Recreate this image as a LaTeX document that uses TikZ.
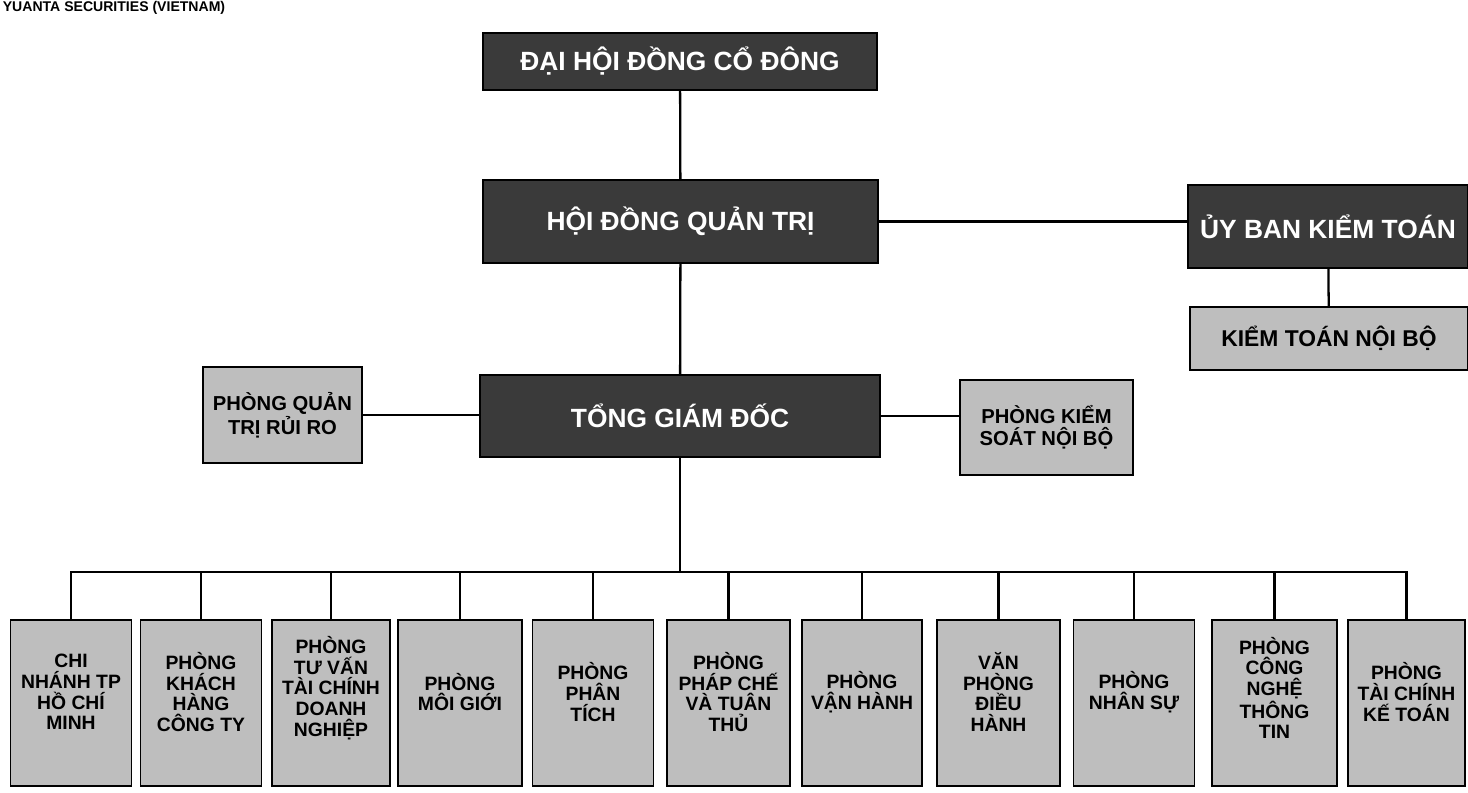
\documentclass[tikz,border=0pt]{standalone}
\usepackage{fontspec}
\setmainfont{Liberation Sans}
\definecolor{boxdark}{HTML}{3A3A3A}
\definecolor{boxlight}{HTML}{BEBEBE}
\begin{document}
\begin{tikzpicture}[scale=1.0,
  dark/.style={draw=black, fill=boxdark, text=white, font=\fontsize{15}{17}\selectfont\bfseries, line width=0.8pt},
  light/.style={draw=black, fill=boxlight, font=\fontsize{11.5}{12.5}\selectfont\bfseries, align=center, line width=0.8pt},
  unit/.style={draw=black, fill=boxlight, line width=0.8pt, minimum width=2.42cm, minimum height=3.32cm, inner sep=1pt},
  unittext/.style={font=\fontsize{11}{11.8}\selectfont\bfseries, align=center, inner sep=0pt, yshift=0.22cm},
  link/.style={line width=1.3pt}]
\useasboundingbox (0,0) rectangle (29.36,-15.84);
\node[anchor=north west, inner sep=0pt, font=\fontsize{8}{9}\selectfont\bfseries] (0) at (0.05,-0.02) {YUANTA SECURITIES (VIETNAM)};
\node[dark, minimum width=7.88cm, minimum height=1.14cm] (1) at (13.6,-1.23) {ĐẠI HỘI ĐỒNG CỔ ĐÔNG};
\node[dark, minimum width=7.9cm, minimum height=1.66cm] (2) at (13.61,-4.43) {HỘI ĐỒNG QUẢN TRỊ};
\node[dark, minimum width=5.6cm, minimum height=1.66cm] (3) at (26.56,-4.53) {ỦY BAN KIỂM TOÁN};
\node[light, font=\fontsize{13}{14}\selectfont\bfseries, minimum width=5.56cm, minimum height=1.26cm] (4) at (26.58,-6.77) {KIỂM TOÁN NỘI BỘ};
\node[dark, minimum width=8cm, minimum height=1.64cm] (5) at (13.6,-8.32) {TỔNG GIÁM ĐỐC};
\node[light, minimum width=3.18cm, minimum height=1.92cm] (6) at (5.65,-8.3) {PHÒNG QUẢN\\TRỊ RỦI RO};
\node[light, minimum width=3.46cm, minimum height=1.9cm] (7) at (20.93,-8.55) {PHÒNG KIỂM\\SOÁT NỘI BỘ};
\coordinate (bus) at (13.6,-11.44);

\node[unit, label={[unittext]center:CHI\\NHÁNH TP\\HỒ CHÍ\\MINH}] (11) at (1.42,-14.06) {};
\node[unit, label={[unittext]center:PHÒNG\\KHÁCH\\HÀNG\\CÔNG TY}] (12) at (4.02,-14.06) {};
\node[unit, minimum width=2.36cm, label={[unittext, yshift=0.08cm]center:PHÒNG\\TƯ VẤN\\TÀI CHÍNH\\DOANH\\NGHIỆP}] (13) at (6.62,-14.06) {};
\node[unit, minimum width=2.48cm, label={[unittext]center:PHÒNG\\MÔI GIỚI}] (14) at (9.2,-14.06) {};
\node[unit, label={[unittext]center:PHÒNG\\PHÂN\\TÍCH}] (15) at (11.86,-14.06) {};
\node[unit, minimum width=2.46cm, label={[unittext]center:PHÒNG\\PHÁP CHẾ\\VÀ TUÂN\\THỦ}] (16) at (14.57,-14.06) {};
\node[unit, minimum width=2.4cm, label={[unittext]center:PHÒNG\\VẬN HÀNH}] (17) at (17.24,-14.06) {};
\node[unit, minimum width=2.46cm, label={[unittext]center:VĂN\\PHÒNG\\ĐIỀU\\HÀNH}] (18) at (19.97,-14.06) {};
\node[unit, label={[unittext]center:PHÒNG\\NHÂN SỰ}] (19) at (22.68,-14.06) {};
\node[unit, minimum width=2.5cm, label={[unittext, yshift=0.08cm]center:PHÒNG\\CÔNG\\NGHỆ\\THÔNG\\TIN}] (20) at (25.49,-14.06) {};
\node[unit, minimum width=2.34cm, label={[unittext]center:PHÒNG\\TÀI CHÍNH\\KẾ TOÁN}] (21) at (28.13,-14.06) {};

\path[draw,link] (1) -- (2);
\path[draw,link] (2) -- (5);
\path[draw,link] (2.east) -- (2.east -| 3.west);
\path[draw,link] (3) -- (4);
\path[draw,link] (6) -- (6 -| 5.west);
\path[draw,link] (5.east) -- (5.east -| 7.west);
\path[draw,link] (5) -- (bus);
\path[draw,link] (bus) -| (11.north);
\path[draw,link] (bus) -| (12.north);
\path[draw,link] (bus) -| (13.north);
\path[draw,link] (bus) -| (14.north);
\path[draw,link] (bus) -| (15.north);
\path[draw,link] (bus) -| (16.north);
\path[draw,link] (bus) -| (17.north);
\path[draw,link] (bus) -| (18.north);
\path[draw,link] (bus) -| (19.north);
\path[draw,link] (bus) -| (20.north);
\path[draw,link] (bus) -| (21.north);
\end{tikzpicture}
\end{document}
